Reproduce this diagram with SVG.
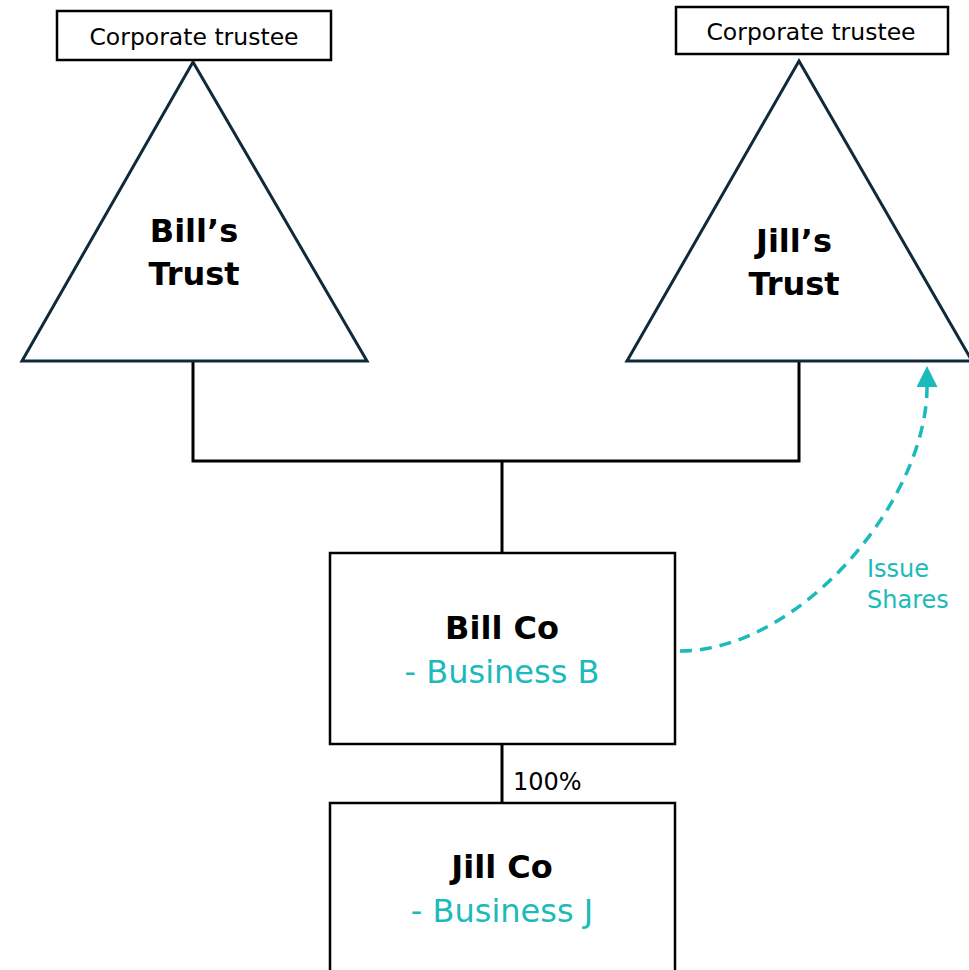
<svg xmlns="http://www.w3.org/2000/svg" width="969" height="970" viewBox="0 0 969 970">
  <style>
    .box { fill: #ffffff; stroke: #000000; stroke-width: 2.5; }
    .tri { fill: #ffffff; stroke: #0f2a3a; stroke-width: 3; stroke-linejoin: miter; }
    .link { fill: none; stroke: #000000; stroke-width: 3; }
    .flow { fill: none; stroke: #1cbabb; stroke-width: 3.5; stroke-dasharray: 12 8; }
    .title { font-family: "DejaVu Sans", Verdana, sans-serif; font-weight: bold; font-size: 32px; fill: #000000; text-anchor: middle; }
    .sub { font-family: "DejaVu Sans", Verdana, sans-serif; font-size: 32px; fill: #1cbabb; text-anchor: middle; }
    .small { font-family: "DejaVu Sans", Verdana, sans-serif; font-size: 23.5px; fill: #000000; text-anchor: middle; }
    .pct { font-family: "DejaVu Sans", Verdana, sans-serif; font-size: 24px; fill: #000000; }
    .note { font-family: "DejaVu Sans", Verdana, sans-serif; font-size: 24px; fill: #1cbabb; }
  </style>
  <defs>
    <marker id="arrow" viewBox="0 0 10 10" refX="0" refY="5" markerWidth="6" markerHeight="6" markerUnits="strokeWidth" orient="auto">
      <path d="M0,0 L10,5 L0,10 Z" fill="#1cbabb"/>
    </marker>
  </defs>

  <!-- ownership lines -->
  <g id="connectors">
    <polyline class="link" points="193,361 193,461 799,461 799,361"/>
    <line class="link" x1="502" y1="461" x2="502" y2="553"/>
    <line class="link" x1="502" y1="744" x2="502" y2="803"/>
    <text class="pct" x="513" y="790">100%</text>
    <path class="flow" d="M680,651 C800,651 927,500 927,387" marker-end="url(#arrow)"/>
    <text class="note" x="867" y="577">Issue</text>
    <text class="note" x="867" y="608">Shares</text>
  </g>

  <g id="bill-trust">
    <polygon class="tri" points="193,62 367,361 22,361"/>
    <text class="title" x="194" y="242">Bill’s</text>
    <text class="title" x="194" y="285">Trust</text>
  </g>

  <g id="jill-trust">
    <polygon class="tri" points="799,61 972,361 627,361"/>
    <text class="title" x="794" y="252">Jill’s</text>
    <text class="title" x="794" y="295">Trust</text>
  </g>

  <g id="bill-trustee">
    <rect class="box" x="57" y="11" width="274" height="49"/>
    <text class="small" x="194" y="45">Corporate trustee</text>
  </g>

  <g id="jill-trustee">
    <rect class="box" x="676" y="7" width="272" height="47"/>
    <text class="small" x="811" y="40">Corporate trustee</text>
  </g>

  <g id="bill-co">
    <rect class="box" x="330" y="553" width="345" height="191"/>
    <text class="title" x="502" y="639">Bill Co</text>
    <text class="sub" x="502" y="683">- Business B</text>
  </g>

  <g id="jill-co">
    <rect class="box" x="330" y="803" width="345" height="200"/>
    <text class="title" x="502" y="878">Jill Co</text>
    <text class="sub" x="502" y="922">- Business J</text>
  </g>
</svg>
